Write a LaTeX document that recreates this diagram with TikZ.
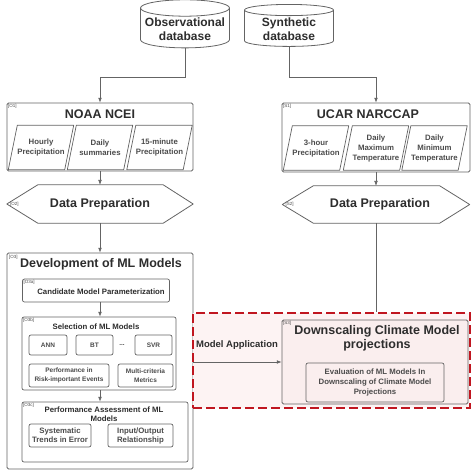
\documentclass[tikz,border=0pt]{standalone}
\usepackage{fontspec}
\setmainfont{Liberation Sans}
\usetikzlibrary{arrows.meta,positioning,shapes.geometric}
\definecolor{lineGray}{RGB}{100,100,100}
\definecolor{textGray}{RGB}{45,45,45}
\definecolor{softGray}{RGB}{75,75,75}
\definecolor{appRed}{RGB}{192,22,32}
\definecolor{appFill}{RGB}{253,243,243}
\definecolor{boxPink}{RGB}{250,238,238}
\tikzset{
  flowln/.style={-{Latex[length=1.7mm,width=1.3mm]}, line width=0.6pt, lineGray},
  plainln/.style={line width=0.6pt, lineGray},
  dbase/.style={cylinder, shape border rotate=90, aspect=0.2, draw=lineGray, line width=0.8pt,
    fill=white, minimum width=89pt, minimum height=42pt, align=center, inner sep=1pt,
    text=textGray, font=\fontsize{12}{14}\selectfont\bfseries},
  outerbox/.style={draw=lineGray, line width=0.8pt, fill=white, rounded corners=1.5pt},
  innerbox/.style={draw=lineGray, line width=0.7pt, fill=white, rounded corners=2pt,
    align=center, inner sep=1pt, text=softGray},
  headfont/.style={text=textGray, font=\fontsize{12.5}{14}\selectfont\bfseries, align=center, inner sep=0pt},
  subhead/.style={text=textGray, font=\fontsize{7.8}{9}\selectfont\bfseries, align=center, inner sep=0pt},
  paratext/.style={minimum width=56pt, minimum height=44pt, inner sep=0pt, align=center,
    text=softGray, font=\fontsize{7.8}{10}\selectfont\bfseries},
  paraln/.style={draw=lineGray, line width=0.7pt, line join=round},
  hexln/.style={draw=lineGray, line width=0.8pt, fill=white, line join=round},
  hexbody/.style={minimum width=186pt, minimum height=38pt, inner sep=0pt, text=textGray,
    font=\fontsize{12.5}{14}\selectfont\bfseries},
  smalltxt/.style={font=\fontsize{6.5}{9}\selectfont\bfseries},
  midtxt/.style={font=\fontsize{7.8}{9}\selectfont\bfseries},
  tag/.style={inner sep=1.2pt, text=softGray, font=\fontsize{4.5}{4.5}\selectfont},
  appregion/.style={draw=appRed, fill=appFill, line width=2.6pt, dash pattern=on 9pt off 4pt},
}

\begin{document}
\begin{tikzpicture}[x=1pt,y=-1pt]
  \useasboundingbox (0,0) rectangle (472,472);
  % source databases
  \node[dbase] (obs) at (185,29) {Observational\\database};
  \node[dbase] (syn) at (289,29) {Synthetic\\database};

  % observed data: NOAA NCEI
  \node[outerbox, minimum width=186pt, minimum height=68pt] (noaa) at (100,137) {};
  \node[tag, anchor=north west] (tagO1) at (noaa.north west) {[O1]};
  \node[headfont] (noaaT) at (100,114) {NOAA NCEI};
  \node[paratext] (hourly) at (41,147.5) {Hourly\\Precipitation};
  \node[paratext] (dailysum) at (100,147.5) {Daily\\summaries};
  \node[paratext] (min15) at (159.5,147.5) {15-minute\\Precipitation};

  % synthetic data: UCAR NARCCAP
  \node[outerbox, minimum width=188pt, minimum height=69pt] (ucar) at (376,137.5) {};
  \node[tag, anchor=north west] (tagS1) at (ucar.north west) {[S1]};
  \node[headfont] (ucarT) at (368,114) {UCAR NARCCAP};
  \node[paratext] (hr3) at (316,148) {3-hour\\Precipitation};
  \node[paratext] (tmax) at (376,148) {Daily\\Maximum\\Temperature};
  \node[paratext] (tmin) at (434.5,148) {Daily\\Minimum\\Temperature};

  \foreach \p in {hourly,dailysum,min15,hr3,tmax,tmin}
    \draw[paraln] ([xshift=-4.5pt]\p.south west) -- ([xshift=4.5pt]\p.north west)
      -- ([xshift=4.5pt]\p.north east) -- ([xshift=-4.5pt]\p.south east) -- cycle;

  % data preparation
  \node[hexbody] (prepO) at (100,204) {};
  \node[hexbody, minimum width=187pt, minimum height=37pt] (prepS) at (376,204.5) {};
  \foreach \h in {prepO,prepS}
    \draw[hexln] (\h.west) -- ([xshift=31pt]\h.north west) -- ([xshift=-30pt]\h.north east)
      -- (\h.east) -- ([xshift=-30pt]\h.south east) -- ([xshift=31pt]\h.south west) -- cycle;
  \node[hexbody, minimum width=0pt, minimum height=0pt] (prepOT) at (100,204) {Data Preparation};
  \node[hexbody, minimum width=0pt, minimum height=0pt] (prepST) at (380,204.5) {Data Preparation};
  \node[tag, anchor=west] (tagO2) at ([xshift=2pt]prepO.west) {[O2]};
  \node[tag, anchor=west] (tagS2) at ([xshift=2pt]prepS.west) {[S2]};

  % ML model development
  \node[outerbox, minimum width=186pt, minimum height=216pt] (dev) at (100,361) {};
  \node[tag, anchor=north west] (tagO3) at ([shift={(1pt,-1pt)}]dev.north west) {[O3]};
  \node[headfont] (devT) at (101,264) {Development of ML Models};

  \node[innerbox, minimum width=147pt, minimum height=23pt] (cand) at (96,290.5) {};
  \node[tag, anchor=north west] (tagO3a) at (cand.north west) {[O3a]};
  \node[subhead] (candT) at (101,292) {Candidate Model Parameterization};

  \node[innerbox, minimum width=154pt, minimum height=73pt] (sel) at (99,353.5) {};
  \node[tag, anchor=north west] (tagO3b) at (sel.north west) {[O3b]};
  \node[subhead] (selT) at (96,327) {Selection of ML Models};
  \node[innerbox, smalltxt, minimum width=38pt, minimum height=20pt] (ann) at (48,345) {ANN};
  \node[innerbox, smalltxt, minimum width=37pt, minimum height=20pt] (bt) at (94.5,345) {BT};
  \node[text=softGray, smalltxt] (etc) at (122,345) {...};
  \node[innerbox, smalltxt, minimum width=37pt, minimum height=20pt] (svr) at (153.5,345) {SVR};
  \node[innerbox, smalltxt, minimum width=80pt, minimum height=23pt] (risk) at (69,375.5) {Performance in\\Risk-important Events};
  \node[innerbox, smalltxt, minimum width=55pt, minimum height=23pt] (multi) at (145.5,375.5) {Multi-criteria\\Metrics};

  \node[innerbox, minimum width=166pt, minimum height=60pt] (assess) at (105,432) {};
  \node[tag, anchor=north west] (tagO3c) at (assess.north west) {[O3c]};
  \node[subhead] (assessT) at (104,414) {Performance Assessment of ML\\Models};
  \node[innerbox, midtxt, minimum width=62pt, minimum height=23pt] (trend) at (60,435.5) {Systematic\\Trends in Error};
  \node[innerbox, midtxt, minimum width=65pt, minimum height=23pt] (inout) at (140.5,435.5) {Input/Output\\Relationship};

  % model application
  \node[appregion, minimum width=277pt, minimum height=95pt] (apply) at (331.5,360.5) {};
  \node[outerbox, fill=boxPink, minimum width=186pt, minimum height=84pt] (down) at (375,362) {};
  \node[tag, anchor=north west] (tagS3) at (down.north west) {[S3]};
  \node[headfont] (downT) at (377,338) {Downscaling Climate Model\\projections};
  \node[innerbox, fill=boxPink, minimum width=138pt, minimum height=39pt,
    font=\fontsize{7.8}{10}\selectfont\bfseries] (eval) at (375,382.5)
    {Evaluation of ML Models In\\Downscaling of Climate Model\\Projections};
  \node[text=textGray, font=\fontsize{9.5}{11}\selectfont\bfseries] (appT) at (237,345) {Model Application};

  % connectors
  \draw[flowln] (obs.south) -- (obs.south |- 0,77) -| (noaa.north);
  \draw[flowln] (syn.south) -- (syn.south |- 0,77) -| (ucar.north);
  \draw[flowln] (noaa.south) -- (prepO.north);
  \draw[flowln] (ucar.south) -- (prepS.north);
  \draw[flowln] (prepO.south) -- (dev.north);
  \draw[plainln] (prepS.south) -- (prepS.south |- apply.north);
  \draw[flowln] ([xshift=4pt]cand.south) -- ([xshift=4pt]cand.south |- sel.north);
  \draw[flowln] ([xshift=1pt]sel.south) -- ([xshift=1pt]sel.south |- assess.north);
  \draw[flowln] (dev.east |- down.west) -- (down.west);
\end{tikzpicture}
\end{document}
